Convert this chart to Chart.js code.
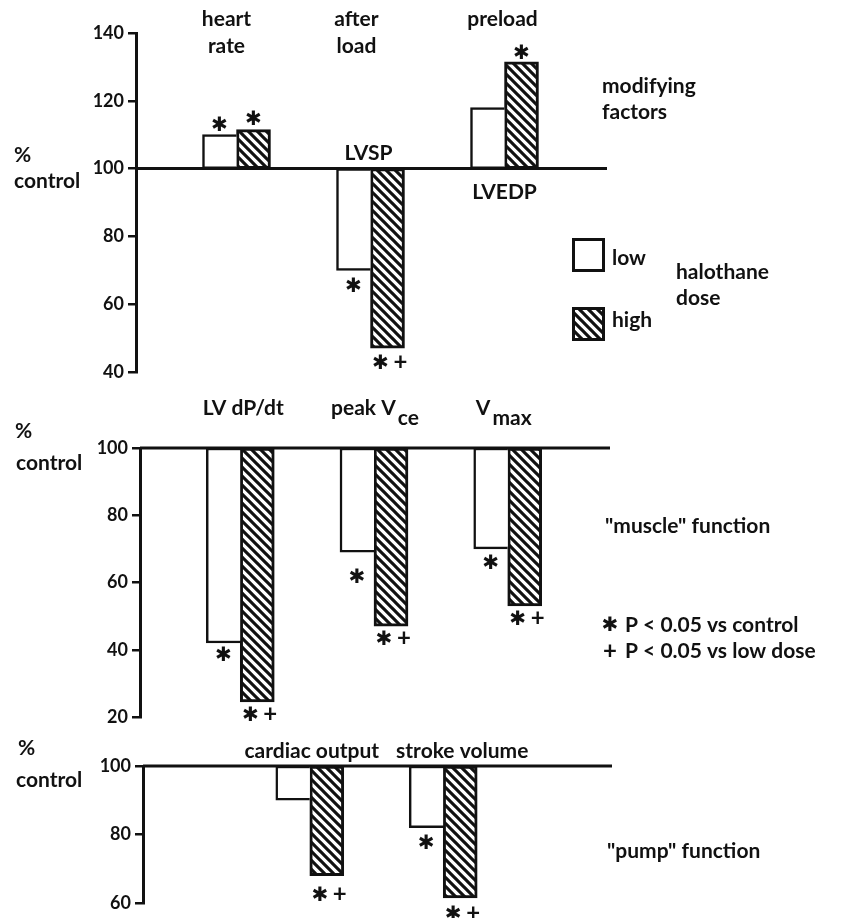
<!DOCTYPE html>
<html>
<head>
<meta charset="utf-8">
<script src="https://cdn.jsdelivr.net/npm/chart.js@4.4.1/dist/chart.umd.min.js"></script>
<style>
html,body{margin:0;padding:0;background:#fff;}
#wrap{position:relative;width:843px;height:918px;overflow:hidden;}
#wrap canvas{position:absolute;left:0;top:0;}
</style>
</head>
<body>
<div id="wrap">
<canvas id="c1" width="843" height="918"></canvas>
<canvas id="c2" width="843" height="918"></canvas>
<canvas id="c3" width="843" height="918"></canvas>
</div>
<script>
// ---------------- data ----------------
const baseline = 100;              // % control
const doseLabels = ['low', 'high'];

const modCategories = ['heart\nrate', 'after\nload', 'preload'];
const modSubLabels  = ['', 'LVSP', 'LVEDP'];
const modLow  = [110, 70, 118];
const modHigh = [111.5, 47, 131.5];
const modTicks = [40, 60, 80, 100, 120, 140];
const modLowSig  = ['*', '*', ''];
const modHighSig = ['*', '* +', '*'];

const muscleCategories = ['LV dP/dt', 'peak V_ce', 'V_max'];
const muscleLow  = [42, 69, 70];
const muscleHigh = [24.5, 47, 53];
const muscleTicks = [20, 40, 60, 80, 100];
const muscleLowSig  = ['*', '*', '*'];
const muscleHighSig = ['* +', '* +', '* +'];

const pumpCategories = ['cardiac output', 'stroke volume'];
const pumpLow  = [90, 82];
const pumpHigh = [68, 61.5];
const pumpTicks = [60, 80, 100];
const pumpLowSig  = ['', '*'];
const pumpHighSig = ['* +', '* +'];

// ---------------- styling ----------------
const INK = '#111';
const FONT = 'Lato, "DejaVu Sans", sans-serif';
const TXT = 'bold 21px ' + FONT;
const STAR = 'bold 20px "DejaVu Sans", sans-serif';
const STAR_CHAR = '\u2731';
const PLUS = 'bold 24px ' + FONT;

function makeHatch() {
  const s = 9;
  const c = document.createElement('canvas');
  c.width = s; c.height = s;
  const g = c.getContext('2d');
  g.fillStyle = '#fff'; g.fillRect(0, 0, s, s);
  g.strokeStyle = INK; g.lineWidth = 3.1; g.lineCap = 'square';
  for (let k = -1; k <= 1; k++) {
    g.beginPath(); g.moveTo(k * s, 0); g.lineTo(k * s + s, s); g.stroke();
  }
  return c;
}
const hatchTile = makeHatch();

function glyph(ctx, s, cx, cy, font) {
  ctx.font = font; ctx.textAlign = 'center'; ctx.textBaseline = 'alphabetic';
  const m = ctx.measureText(s);
  ctx.fillText(s, cx, cy + (m.actualBoundingBoxAscent - m.actualBoundingBoxDescent) / 2);
}
function sigMark(ctx, s, cx, cy) {
  if (s === '*') glyph(ctx, STAR_CHAR, cx, cy, STAR);
  else if (s === '* +') { glyph(ctx, STAR_CHAR, cx - 7, cy, STAR); glyph(ctx, '+', cx + 13, cy, PLUS); }
  else if (s === '+') glyph(ctx, '+', cx, cy, PLUS);
}
// label with "_" meaning subscript part
function richText(ctx, str, cx, baseY, font) {
  ctx.font = font; ctx.textBaseline = 'alphabetic'; ctx.textAlign = 'left';
  const parts = str.split('_');
  const gap = 2;
  const widths = parts.map(p => ctx.measureText(p).width);
  const total = widths.reduce((a, b) => a + b, 0) + gap * (parts.length - 1);
  let x = cx - total / 2;
  parts.forEach((p, i) => {
    ctx.fillText(p, x, baseY + (i > 0 ? 10 : 0));
    x += widths[i] + gap;
  });
}
function plainText(ctx, s, x, y, font, align) {
  ctx.font = font || TXT; ctx.textAlign = align || 'left'; ctx.textBaseline = 'alphabetic';
  ctx.fillText(s, x, y);
}

const decor = {
  id: 'decor',
  beforeDatasetsDraw(chart, args, o) {
    const {ctx, chartArea: a, scales: {y}} = chart;
    const yb = y.getPixelForValue(baseline);
    ctx.save();
    ctx.strokeStyle = INK; ctx.lineWidth = 3;
    ctx.beginPath(); ctx.moveTo(a.left, yb); ctx.lineTo(a.right + 2, yb); ctx.stroke();
    ctx.restore();
  },
  afterDatasetsDraw(chart, args, o) {
    const {ctx, scales: {x, y}} = chart;
    const P = o.panel;
    ctx.save();
    ctx.fillStyle = INK;
    // category labels
    P.cats.forEach((c, i) => {
      const cx = x.getPixelForValue(P.slots[i]) + P.catDx[i];
      c.split('\n').forEach((line, li) => richText(ctx, line, cx, P.catBase + li * 27, TXT));
    });
    // sub labels next to the baseline (LVSP / LVEDP)
    (P.sub || []).forEach((s, i) => {
      if (!s) return;
      const cx = x.getPixelForValue(P.slots[i]);
      const yb = y.getPixelForValue(baseline);
      const up = P.low[i] < baseline;
      plainText(ctx, s, cx - (up ? 2 : 0), up ? yb - 9 : yb + 30, TXT, 'center');
    });
    // significance marks
    [[P.lowSig, P.low, P.lowGap], [P.highSig, P.high, P.highGap]].forEach(([sigs, vals, gaps], di) => {
      const meta = chart.getDatasetMeta(di);
      sigs.forEach((s, i) => {
        if (!s) return;
        const el = meta.data[P.slots[i]];
        const v = vals[i];
        const py = y.getPixelForValue(v);
        const g = (gaps && gaps[i]) || (v < baseline ? 13 : 11);
        const cy = v < baseline ? py + g : py - g;
        sigMark(ctx, s, el.x, cy);
      });
    });
    // free texts
    P.texts.forEach(t => plainText(ctx, t[0], t[1], t[2], t[3]));
    (P.marks || []).forEach(m => sigMark(ctx, m[0], m[1], m[2]));
    // legend
    if (P.legend) {
      const pat = ctx.createPattern(hatchTile, 'repeat');
      const boxes = [[572, 238, '#fff'], [572, 307, pat]];
      boxes.forEach((b, i) => {
        ctx.fillStyle = b[2]; ctx.fillRect(b[0], b[1], 33, 34);
        ctx.strokeStyle = INK; ctx.lineWidth = 3; ctx.strokeRect(b[0] + 1.5, b[1] + 1.5, 30, 31);
        ctx.fillStyle = INK;
        plainText(ctx, doseLabels[i], 612, i === 0 ? 265 : 327, TXT);
      });
    }
    ctx.restore();
  }
};

const panels = [
  { id: 'c1', cats: modCategories, sub: modSubLabels, low: modLow, high: modHigh, ticks: modTicks,
    lowSig: modLowSig, highSig: modHighSig, lowGap: [11, 14, 0], highGap: [12, 13, 10],
    left: 136, right: 605, top: 33, bottom: 372, nSlots: 7, slots: [1, 3, 5],
    catDx: [-10, -14, -2], catBase: 26, legend: true,
    texts: [['%', 14, 162], ['control', 14, 188], ['modifying', 602, 93], ['factors', 602, 119],
            ['halothane', 676, 279], ['dose', 676, 305]] },
  { id: 'c2', cats: muscleCategories, low: muscleLow, high: muscleHigh, ticks: muscleTicks,
    lowSig: muscleLowSig, highSig: muscleHighSig, lowGap: [10, 23, 13], highGap: [12, 11, 11],
    left: 140, right: 608, top: 448, bottom: 717, nSlots: 7, slots: [1, 3, 5],
    catDx: [3, 1, -4], catBase: 415,
    texts: [['%', 15, 438], ['control', 16, 470], ['"muscle" function', 605, 533],
            ['P < 0.05 vs control', 625, 632], ['P < 0.05 vs low dose', 625, 658]],
    marks: [['*', 610, 623], ['+', 610, 650]] },
  { id: 'c3', cats: pumpCategories, low: pumpLow, high: pumpHigh, ticks: pumpTicks,
    lowSig: pumpLowSig, highSig: pumpHighSig, lowGap: [0, 14], highGap: [18, 15],
    left: 143, right: 610, top: 766, bottom: 903, nSlots: 7, slots: [2, 4],
    catDx: [2, 19], catBase: 758,
    texts: [['%', 18, 755], ['control', 16, 787], ['"pump" function', 607, 858]] }
];

panels.forEach(P => {
  const labels = new Array(P.nSlots).fill('');
  const lowData = new Array(P.nSlots).fill(null);
  const highData = new Array(P.nSlots).fill(null);
  P.slots.forEach((s, i) => {
    labels[s] = P.cats[i].replace('\n', ' ');
    lowData[s] = [baseline, P.low[i]];
    highData[s] = [baseline, P.high[i]];
  });
  const canvas = document.getElementById(P.id);
  const hatch = canvas.getContext('2d').createPattern(hatchTile, 'repeat');
  new Chart(canvas, {
    type: 'bar',
    data: {
      labels,
      datasets: [
        { label: doseLabels[0], data: lowData, backgroundColor: '#fff', borderColor: INK,
          borderWidth: {top: 2.5, bottom: 2.5, left: 2.5, right: 0}, borderSkipped: false, barThickness: 34 },
        { label: doseLabels[1], data: highData, backgroundColor: hatch, borderColor: INK,
          borderWidth: 3, borderSkipped: false, barThickness: 34 }
      ]
    },
    options: {
      responsive: false, animation: false, devicePixelRatio: 1,
      layout: { padding: { left: 0, right: 843 - P.right, top: P.top, bottom: 918 - P.bottom } },
      plugins: { legend: { display: false }, tooltip: { enabled: false }, decor: { panel: P } },
      scales: {
        x: { display: false, offset: true, grid: { display: false } },
        y: {
          min: Math.min(...P.ticks), max: Math.max(...P.ticks),
          afterBuildTicks: s => { s.ticks = P.ticks.map(v => ({ value: v })); },
          afterFit: s => { s.width = P.left; },
          border: { display: true, color: INK, width: 3 },
          grid: { drawOnChartArea: false, drawTicks: true, tickLength: 8, color: INK, lineWidth: 2.5 },
          ticks: { color: INK, padding: 4, font: { family: FONT, size: 18, weight: 'bold' } }
        }
      }
    },
    plugins: [decor]
  });
});
</script>
</body>
</html>
